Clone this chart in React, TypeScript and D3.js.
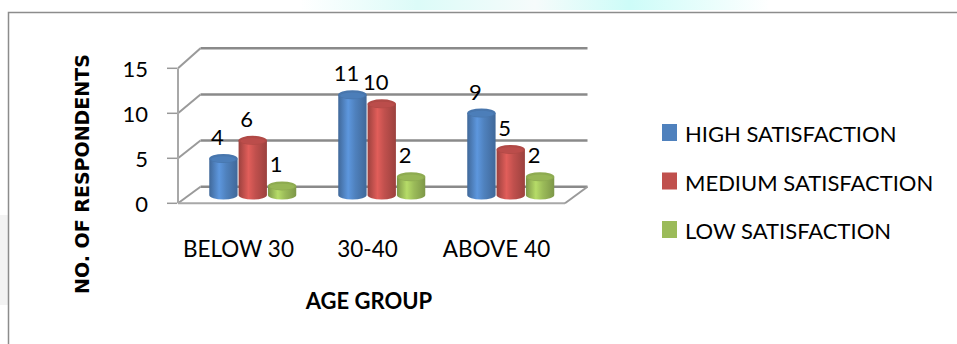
import React from "react";
import * as d3 from "d3";

const categories = ["BELOW 30", "30-40", "ABOVE 40"];
const seriesNames = ["HIGH SATISFACTION", "MEDIUM SATISFACTION", "LOW SATISFACTION"];
const highValues = [4, 11, 9];
const mediumValues = [6, 10, 5];
const lowValues = [1, 2, 2];
const yTicks = [0, 5, 10, 15];
const seriesColors = ["#4F81BD", "#C0504D", "#9BBB59"];

const W = 957;
const H = 344;
const FX0 = 178;
const FX1 = 565;
const DX = 22.5;
const FONT = "Lato, 'Open Sans', sans-serif";

export default function App() {
  const seriesValues = [highValues, mediumValues, lowValues];
  const yFront = d3.scaleLinear().domain([0, 15]).range([203.3, 68.3]);
  const yBack = d3.scaleLinear().domain([0, 15]).range([186.7, 48.3]);
  const yMid = (v: number) => (yFront(v) + yBack(v)) / 2;
  const xBand = d3.scaleBand<string>().domain(categories).range([FX0, FX1]);
  const inner = d3.scaleBand<string>().domain(seriesNames).range([-44, 44]);
  const bw = inner.bandwidth();
  const ry = 4.5;

  const shades = seriesColors.map((c) => {
    const base = d3.color(c)!;
    return {
      edge: d3.color(c)!.darker(0.6).formatHex(),
      hi: d3.color(c)!.brighter(0.45).formatHex(),
      base: base.formatHex(),
      top: d3.color(c)!.darker(0.25).formatHex(),
    };
  });

  const gridColor = "#8a8a8a";

  return (
    <svg
      width={W}
      height={H}
      style={{ position: "absolute", left: 0, top: 0, background: "#fff" }}
      fontFamily={FONT}
    >
      <defs>
        {shades.map((s, i) => (
          <linearGradient key={i} id={`cyl${i}`} x1="0" x2="1" y1="0" y2="0">
            <stop offset="0" stopColor={s.edge} />
            <stop offset="0.35" stopColor={s.hi} />
            <stop offset="0.6" stopColor={s.base} />
            <stop offset="1" stopColor={s.edge} />
          </linearGradient>
        ))}
        <linearGradient id="wm" x1="0" x2="1" y1="0" y2="0">
          <stop offset="0" stopColor="#ffffff" />
          <stop offset="0.25" stopColor="#dcfbf8" />
          <stop offset="0.5" stopColor="#f6fbfb" />
          <stop offset="0.7" stopColor="#cdfcf8" />
          <stop offset="1" stopColor="#ffffff" />
        </linearGradient>
      </defs>
      <rect x={0} y={0} width={W} height={H} fill="#fff" />
      <rect x={300} y={0} width={470} height={10} fill="url(#wm)" />
      <rect x={0} y={215} width={8} height={90} fill="#f3f3f3" />
      {/* frame */}
      <path d={`M8.5,${H} V12.5 H${W}`} fill="none" stroke="#8c8c8c" strokeWidth={1.5} />

      {/* back wall gridlines */}
      {yTicks.map((t) => (
        <g key={t}>
          <line
            x1={FX0 + DX}
            x2={FX1 + DX}
            y1={yBack(t)}
            y2={yBack(t)}
            stroke={gridColor}
            strokeWidth={2.5}
          />
          <line
            x1={FX0}
            y1={yFront(t)}
            x2={FX0 + DX}
            y2={yBack(t)}
            stroke="#9a9a9a"
            strokeWidth={2}
          />
          <line x1={167} x2={177} y1={yFront(t)} y2={yFront(t)} stroke="#999" strokeWidth={1.5} />
          <text
            x={148}
            y={yFront(t) + 3}
            textAnchor="end"
            dominantBaseline="middle"
            fontSize={22}
            fill="#000"
          >
            {t}
          </text>
        </g>
      ))}
      {/* floor */}
      <line x1={FX0} x2={FX1} y1={yFront(0)} y2={yFront(0)} stroke="#a8a8a8" strokeWidth={2} />
      <line x1={FX1} y1={yFront(0)} x2={FX1 + DX} y2={yBack(0)} stroke="#9a9a9a" strokeWidth={2} />
      <line x1={FX0} x2={FX0} y1={yFront(15)} y2={yFront(0)} stroke="#a8a8a8" strokeWidth={2} />

      {/* bars */}
      {categories.map((c, ci) => {
        const gc = (xBand(c) ?? 0) + xBand.bandwidth() / 2 + DX / 2 - 1;
        return (
          <g key={c}>
            {seriesNames.map((s, si) => {
              const v = seriesValues[si][ci];
              const x0 = gc + (inner(s) ?? 0);
              const cx = x0 + bw / 2;
              const yb = yMid(0);
              const yt = yMid(v);
              const rx = bw / 2 - 0.5;
              return (
                <g key={s}>
                  <path
                    d={`M${cx - rx},${yt} L${cx - rx},${yb} A${rx},${ry} 0 0 0 ${cx + rx},${yb} L${cx + rx},${yt} Z`}
                    fill={`url(#cyl${si})`}
                  />
                  <ellipse cx={cx} cy={yt} rx={rx} ry={ry} fill={shades[si].top} />
                  <ellipse cx={cx} cy={yt + 0.8} rx={rx - 2} ry={ry - 1.5} fill={shades[si].base} opacity={0.7} />
                  <text
                    x={cx - 6}
                    y={yt - 19}
                    textAnchor="middle"
                    dominantBaseline="middle"
                    fontSize={22}
                    fill="#000"
                  >
                    {v}
                  </text>
                </g>
              );
            })}
          </g>
        );
      })}

      {/* category labels */}
      {categories.map((c) => (
        <text
          key={c}
          x={(xBand(c) ?? 0) + xBand.bandwidth() / 2 - 4}
          y={257}
          textAnchor="middle"
          fontSize={22.5}
          fill="#000"
        >
          {c}
        </text>
      ))}

      {/* axis titles */}
      <text x={369} y={309} textAnchor="middle" fontSize={22} fontWeight="bold" fill="#000">
        AGE GROUP
      </text>
      <text
        transform="translate(89,174) rotate(-90)"
        textAnchor="middle"
        fontSize={19}
        fontWeight="bold"
        fill="#000"
        fontFamily="'DejaVu Sans', Arial, sans-serif"
      >
        NO. OF RESPONDENTS
      </text>

      {/* legend */}
      {seriesNames.map((s, i) => (
        <g key={s} transform={`translate(0,${i * 48.5})`}>
          <rect x={662} y={124} width={15} height={17} fill={seriesColors[i]} />
          <text x={685} y={142} fontSize={22} fill="#000">
            {s}
          </text>
        </g>
      ))}
    </svg>
  );
}
